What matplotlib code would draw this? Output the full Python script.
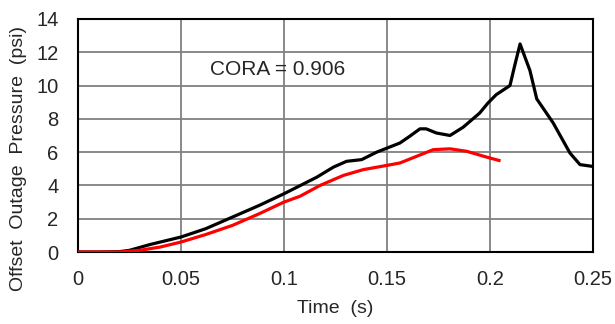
import matplotlib
matplotlib.use('Agg')
import matplotlib.pyplot as plt

# test (black) and model (red) offset outage pressure
t_test = [0.0, 0.01, 0.02, 0.025, 0.035, 0.05, 0.062, 0.075, 0.088, 0.1, 0.108, 0.116,
          0.124, 0.1304, 0.1377, 0.145, 0.1563, 0.161, 0.166, 0.169, 0.174, 0.1806,
          0.187, 0.195, 0.199, 0.203, 0.2097, 0.212, 0.2146, 0.2194, 0.2227, 0.2307,
          0.2388, 0.2437, 0.2494]
p_test = [0.0, 0.0, 0.02, 0.1, 0.45, 0.9, 1.4, 2.1, 2.8, 3.5, 4.0, 4.5,
          5.1, 5.45, 5.55, 6.0, 6.55, 6.95, 7.4, 7.4, 7.15, 7.0,
          7.5, 8.35, 8.95, 9.45, 10.0, 11.2, 12.5, 10.9, 9.2, 7.75,
          5.95, 5.25, 5.15]

t_model = [0.0, 0.01, 0.02, 0.03, 0.04, 0.05, 0.062, 0.075, 0.088, 0.1, 0.1078, 0.1175,
           0.1288, 0.1385, 0.1498, 0.1563, 0.1644, 0.1725, 0.1806, 0.1887, 0.1984, 0.2044]
p_model = [0.0, 0.0, 0.0, 0.1, 0.3, 0.6, 1.05, 1.6, 2.3, 3.0, 3.35, 4.0,
           4.6, 4.95, 5.2, 5.35, 5.75, 6.15, 6.2, 6.05, 5.7, 5.5]

x_ticks = [0, 0.05, 0.1, 0.15, 0.2, 0.25]
x_labels = ['0', '0.05', '0.1', '0.15', '0.2', '0.25']
y_ticks = [0, 2, 4, 6, 8, 10, 12, 14]

plt.rcParams['font.family'] = ['Liberation Sans', 'DejaVu Sans']

fig = plt.figure(figsize=(6.15, 3.24), dpi=100)
ax = fig.add_axes([0.1268, 0.2222, 0.8374, 0.7192])

ax.plot(t_test, p_test, color='black', linewidth=2.3, zorder=3)
ax.plot(t_model, p_model, color='#ff0000', linewidth=2.3, zorder=3)

ax.set_xlim(0, 0.25)
ax.set_ylim(0, 14)
ax.set_xticks(x_ticks)
ax.set_xticklabels(x_labels)
ax.set_yticks(y_ticks)
ax.grid(True, color='#808080', linewidth=1.3)
ax.set_axisbelow(True)
for s in ax.spines.values():
    s.set_linewidth(1.5)
    s.set_color('black')
ax.tick_params(length=0, labelsize=14.5, colors='#262626')
ax.tick_params(axis='x', pad=13)
ax.tick_params(axis='y', pad=14)

ax.text(0.064, 10.95, 'CORA = 0.906', fontsize=15, ha='left', va='center', color='#262626')

ax.set_xlabel('Time  (s)', fontsize=14, color='#262626', labelpad=8)
ax.set_ylabel('Offset  Outage  Pressure  (psi)', fontsize=14, color='#262626',
              va='center', ha='center')
ax.yaxis.set_label_coords(-0.115, 0.40)

fig.savefig('out.png', dpi=100)
